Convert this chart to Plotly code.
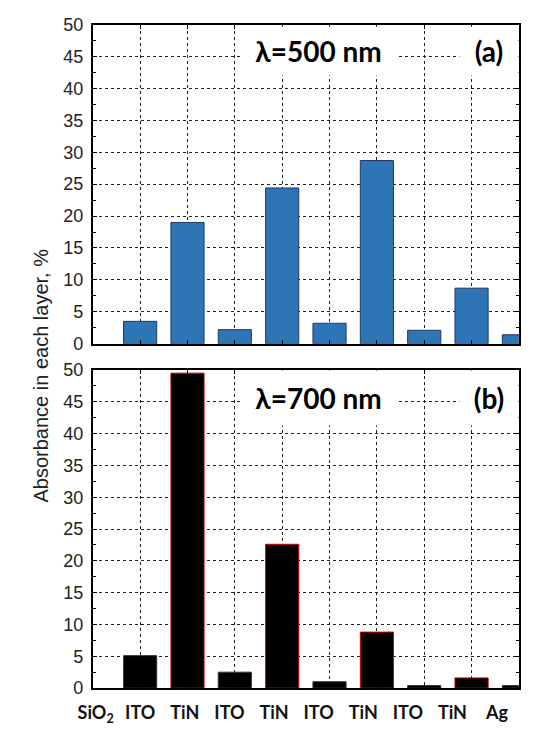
import plotly.graph_objects as go

# Layer stack (index 0 = substrate side)
layers = ["SiO<sub>2</sub>", "ITO", "TiN", "ITO", "TiN", "ITO", "TiN", "ITO", "TiN", "Ag"]
positions = list(range(len(layers)))

# Absorbance per layer, %
absorb_500 = [0.0, 3.5, 19.0, 2.2, 24.4, 3.2, 28.7, 2.1, 8.7, 1.4]
absorb_700 = [0.0, 5.1, 49.5, 2.5, 22.6, 1.0, 8.8, 0.4, 1.6, 0.4]

y_ticks = [0, 5, 10, 15, 20, 25, 30, 35, 40, 45, 50]

W, H = 546, 737
x_dom = [79 / W, 529 / W]
top_dom = [1 - 343 / H, 1 - 15 / H]
bot_dom = [1 - 697 / H, 1 - 370 / H]

fig = go.Figure()

edge_w_500 = [1 if v > 0 else 0 for v in absorb_500]
fig.add_trace(go.Bar(
    x=positions, y=absorb_500, width=0.7,
    marker=dict(color="#2E75B6", line=dict(color="#1F3864", width=edge_w_500)),
    xaxis="x", yaxis="y", cliponaxis=True,
))

edge_700 = ["#d00000" if name == "TiN" else "#333333" for name in layers]
edge_w_700 = [1 if v > 0 else 0 for v in absorb_700]
fig.add_trace(go.Bar(
    x=positions, y=absorb_700, width=0.7,
    marker=dict(color="#000000", line=dict(color=edge_700, width=edge_w_700)),
    xaxis="x2", yaxis="y2", cliponaxis=True,
))

# carrier for the layer-name row under the lower panel
fig.add_trace(go.Scatter(x=positions, y=[0] * len(positions), mode="markers",
                         marker=dict(opacity=0), xaxis="x3", yaxis="y3",
                         showlegend=False, hoverinfo="skip"))

grid = dict(showgrid=True, gridcolor="#222222", gridwidth=1, griddash="dot")
frame = dict(showline=True, linecolor="#000000", linewidth=2, mirror="allticks",
             ticks="inside", tickcolor="#000000", ticklen=4, zeroline=False)

ycommon = dict(range=[0, 50], tickvals=y_ticks, **grid, **frame,
               tickfont=dict(family="Liberation Sans, Arial", size=18, color="#222222"),
               minor=dict(ticks="inside", ticklen=3, dtick=2.5, tickcolor="#000000"),
               ticklabelstandoff=4)
xcommon = dict(range=[0, 9], tickvals=positions, **grid, **frame)

fig.update_layout(
    width=W, height=H,
    margin=dict(l=0, r=0, t=0, b=0),
    paper_bgcolor="white", plot_bgcolor="white",
    showlegend=False, bargap=0.3,
    xaxis=dict(domain=x_dom, anchor="y", showticklabels=False, **xcommon),
    yaxis=dict(domain=top_dom, anchor="x", **ycommon),
    xaxis2=dict(domain=x_dom, anchor="y2", showticklabels=False, **xcommon),
    yaxis2=dict(domain=bot_dom, anchor="x2", **ycommon),
    xaxis3=dict(domain=[82 / W, (82 + 47.1 * 9) / W], anchor="y3", range=[0, 9],
                tickvals=positions, ticktext=layers, showgrid=False, showline=False,
                zeroline=False, ticks="", side="bottom",
                tickfont=dict(family="Lato", size=18, color="#111111", weight="bold"),
                ticklabelstandoff=0),
    yaxis3=dict(domain=[1 - 709 / H, 1 - 703 / H], anchor="x3", visible=False,
                range=[0, 1]),
)

def label_box(text, xc, yc, w, h, size):
    fig.add_annotation(
        text=text, xref="paper", yref="paper",
        x=xc / W, y=1 - yc / H, xanchor="center", yanchor="middle",
        showarrow=False, bgcolor="white", width=w, height=h, borderpad=0,
        font=dict(family="Lato", size=size, color="#000000", weight="bold"),
    )

label_box("λ=500 nm", 317, 42, 155, 48, 28)
label_box("(a)", 497, 42, 58, 48, 28)
label_box("λ=700 nm", 317, 399, 155, 54, 28)
label_box("(b)", 497, 399, 58, 54, 28)

fig.add_annotation(
    text="Absorbance in each layer, %", xref="paper", yref="paper",
    x=24 / W, y=1 - 376 / H, textangle=-90, showarrow=False,
    xanchor="center", yanchor="middle",
    font=dict(family="Liberation Sans, Arial", size=20, color="#222222"),
)

fig.write_html("out.html")
